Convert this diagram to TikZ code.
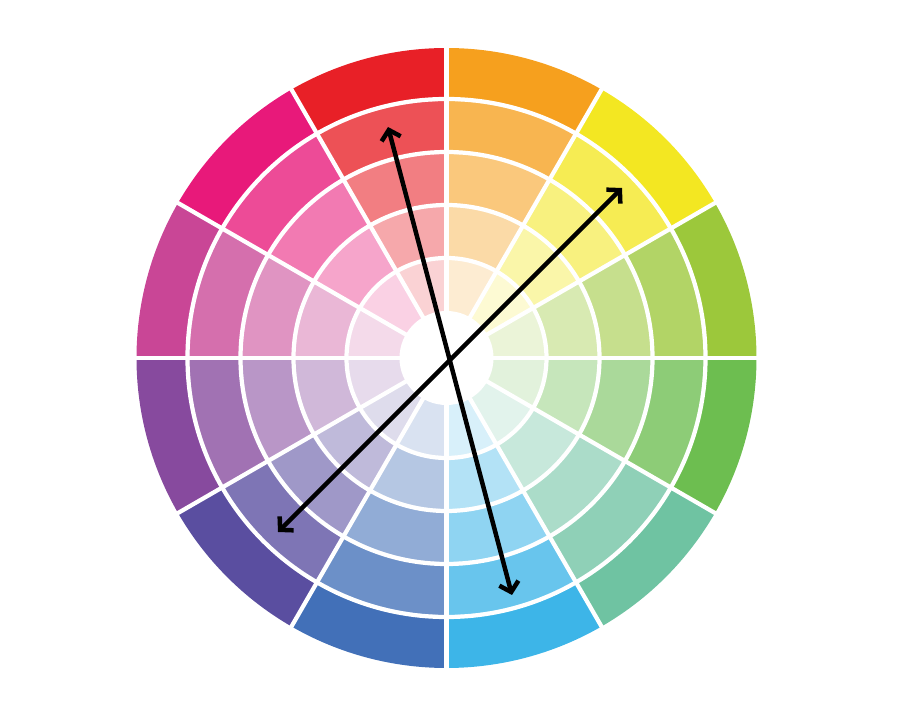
\documentclass[tikz,border=0pt]{standalone}
\usetikzlibrary{arrows.meta}
\definecolor{hueA}{HTML}{9CC83B}
\definecolor{hueB}{HTML}{F3E722}
\definecolor{hueC}{HTML}{F6A01E}
\definecolor{hueD}{HTML}{E82027}
\definecolor{hueE}{HTML}{E8197A}
\definecolor{hueF}{HTML}{C94696}
\definecolor{hueG}{HTML}{874A9E}
\definecolor{hueH}{HTML}{5A4EA0}
\definecolor{hueI}{HTML}{4270B8}
\definecolor{hueJ}{HTML}{3DB5E8}
\definecolor{hueK}{HTML}{6FC3A2}
\definecolor{hueL}{HTML}{6DBE50}
\begin{document}
\begin{tikzpicture}[x=0.025cm,y=0.025cm]
\tikzstyle{gap}=[white,line width=3pt]
\tikzstyle{link}=[black,line width=3.2pt,{Straight Barb[length=6.5pt,width=14pt]}-{Straight Barb[length=6.5pt,width=14pt]}]
\useasboundingbox (-446.5,-362) rectangle (453.5,358);

% sectors, ring by ring
\foreach \c [count=\i from 0] in {hueA,hueB,hueC,hueD,hueE,hueF,hueG,hueH,hueI,hueJ,hueK,hueL} {
  \foreach \p [count=\k] in {100,78,58,39,20} {
    \pgfmathsetmacro{\a}{30*\i}
    \pgfmathsetmacro{\b}{30*\i+30}
    \pgfmathsetmacro{\ro}{310-53*(\k-1)}
    \pgfmathsetmacro{\ri}{310-53*\k}
    \fill[\c!\p!white] (\a:\ri) -- (\a:\ro) arc[start angle=\a,end angle=\b,radius=\ro]
      -- (\b:\ri) arc[start angle=\b,end angle=\a,radius=\ri] -- cycle;
  }
}
\fill[white] (0,0) circle (47);
\foreach \r in {100,153,206,259} \draw[gap] (0,0) circle (\r);
\foreach \a in {0,30,...,330} \draw[gap] (\a:46) -- (\a:312);

\coordinate (redTip) at (-58.5,231);
\coordinate (skyTip) at (65.5,-237);
\coordinate (yellowTip) at (175.5,170);
\coordinate (violetTip) at (-168.5,-174);

\draw[link] (redTip) -- (skyTip);
\draw[link] (yellowTip) -- (violetTip);
\end{tikzpicture}
\end{document}
